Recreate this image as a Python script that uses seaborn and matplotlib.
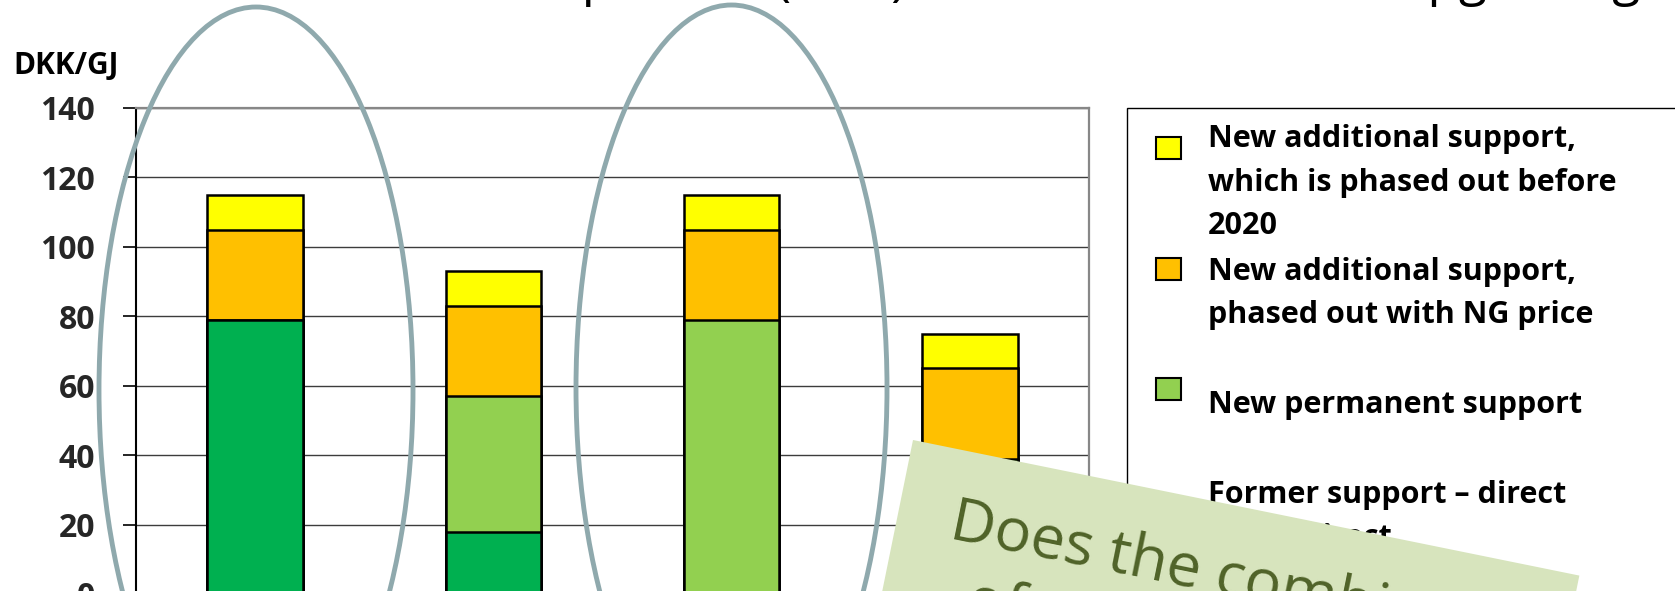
import numpy as np
import pandas as pd
import matplotlib
matplotlib.use("Agg")
import matplotlib.pyplot as plt
from matplotlib.patches import Ellipse, Rectangle
import seaborn as sns

# ---------------- data ----------------
categories = ["Case 1", "Case 2", "Case 3", "Case 4"]
former_support = [79, 18, 0, 0]          # dark green
new_permanent = [0, 39, 79, 39]          # light green
new_ng_price = [26, 26, 26, 26]          # orange
new_before_2020 = [10, 10, 10, 10]       # yellow
y_ticks = [0, 20, 40, 60, 80, 100, 120, 140]
y_label = "DKK/GJ"
legend_labels = [
    "New additional support,\nwhich is phased out before\n2020",
    "New additional support,\nphased out with NG price",
    "New permanent support",
    "Former support \u2013 direct\nand indirect",
]
title_text = "Comparison (DKK) for CHP and for the upgrading"
note_lines = ["Does the combination", "of support schemes"]

col_former = "#00b050"
col_perm = "#92d050"
col_ng = "#ffc000"
col_2020 = "#ffff00"

# ---------------- figure ----------------
W, H = 1675, 591
sns.set_style("white")
plt.rcParams["font.family"] = ["Open Sans", "DejaVu Sans"]
fig = plt.figure(figsize=(W / 100, H / 100), dpi=100)
fig.patch.set_facecolor("white")


def px_axes(l, t, r, b):
    return [l / W, (H - b) / H, (r - l) / W, (b - t) / H]


ax = fig.add_axes(px_axes(136, 108, 1089, 594))
ax.set_facecolor("white")

layers = np.array([former_support, new_permanent, new_ng_price, new_before_2020])
stack = np.cumsum(layers, axis=0)
layer_colors = [col_former, col_perm, col_ng, col_2020]
for i in reversed(range(len(layers))):
    sns.barplot(x=categories, y=stack[i], color=layer_colors[i], saturation=1,
                width=0.4, edgecolor="black", linewidth=1.8, errorbar=None,
                ax=ax, zorder=3)

ax.set_ylim(0, 140)
ax.set_xlim(-0.5, len(categories) - 0.5)
ax.set_xticks([])
ax.set_xlabel("")
ax.set_ylabel("")
ax.set_yticks(y_ticks, labels=[str(v) for v in y_ticks],
              fontweight="bold", fontsize=23)
ax.tick_params(axis="y", left=True, direction="out", length=9.5, width=1.2,
               color="black", pad=20)
ax.yaxis.grid(True, color="#3c3c3c", linewidth=1.0)
ax.set_axisbelow(True)
ax.spines["left"].set_color("black")
ax.spines["left"].set_linewidth(1.5)
for s in ("top", "right"):
    ax.spines[s].set_color("#878787")
    ax.spines[s].set_linewidth(1.6)
    ax.spines[s].set_visible(True)
ax.spines["bottom"].set_visible(False)

# ---------------- overlay (pixel coordinates) ----------------
ov = fig.add_axes([0, 0, 1, 1], zorder=5)
ov.set_xlim(0, W)
ov.set_ylim(H, 0)
ov.axis("off")

# title (mostly cut off at the top)
ov.text(471, -5, title_text, fontsize=37, ha="left", va="baseline",
        color="black", clip_on=False)

# y unit label
ov.text(13, 74, y_label, fontsize=21.5, fontweight="bold", ha="left",
        va="baseline", color="black")

# legend box
ov.add_patch(Rectangle((1127, 108), 600, 520, fc="white", ec="black",
                       lw=1.0, zorder=1))
square_pos = [(137, 22), (258, 22), (378, 22), (505, 22)]
square_cols = [col_2020, col_ng, col_perm, col_former]
first_baselines = [147, 280, 413, 503]
for lab, (sy, sh), sc, by in zip(legend_labels, square_pos, square_cols,
                                 first_baselines):
    ov.add_patch(Rectangle((1156, sy), 25, sh, fc=sc, ec="black", lw=1.5,
                           zorder=2))
    for k, line in enumerate(lab.split("\n")):
        ov.text(1208, by + 43.5 * k, line, fontsize=22, fontweight="bold",
                ha="left", va="baseline", color="black", zorder=3)

# highlight ellipses
ell_col = "#8fa9ad"
ov.add_patch(Ellipse((256, 390), 314, 766, fill=False, ec=ell_col, lw=3.5,
                     zorder=4))
ov.add_patch(Ellipse((731.5, 388), 311, 766, fill=False, ec=ell_col, lw=3.5,
                     zorder=4))

# rotated note
ov.add_patch(Rectangle((913, 440), 680, 420, angle=11.5, fc="#d7e4bd",
                       ec="none", zorder=10))
ov.text(948, 538, note_lines[0], fontsize=44, color="#4f6228",
        rotation=-11.5, rotation_mode="anchor", ha="left", va="baseline",
        zorder=11)
ov.text(964, 616, note_lines[1], fontsize=44, color="#4f6228",
        rotation=-11.5, rotation_mode="anchor", ha="left", va="baseline",
        zorder=11, clip_on=False)

fig.savefig("out.png", dpi=100)
